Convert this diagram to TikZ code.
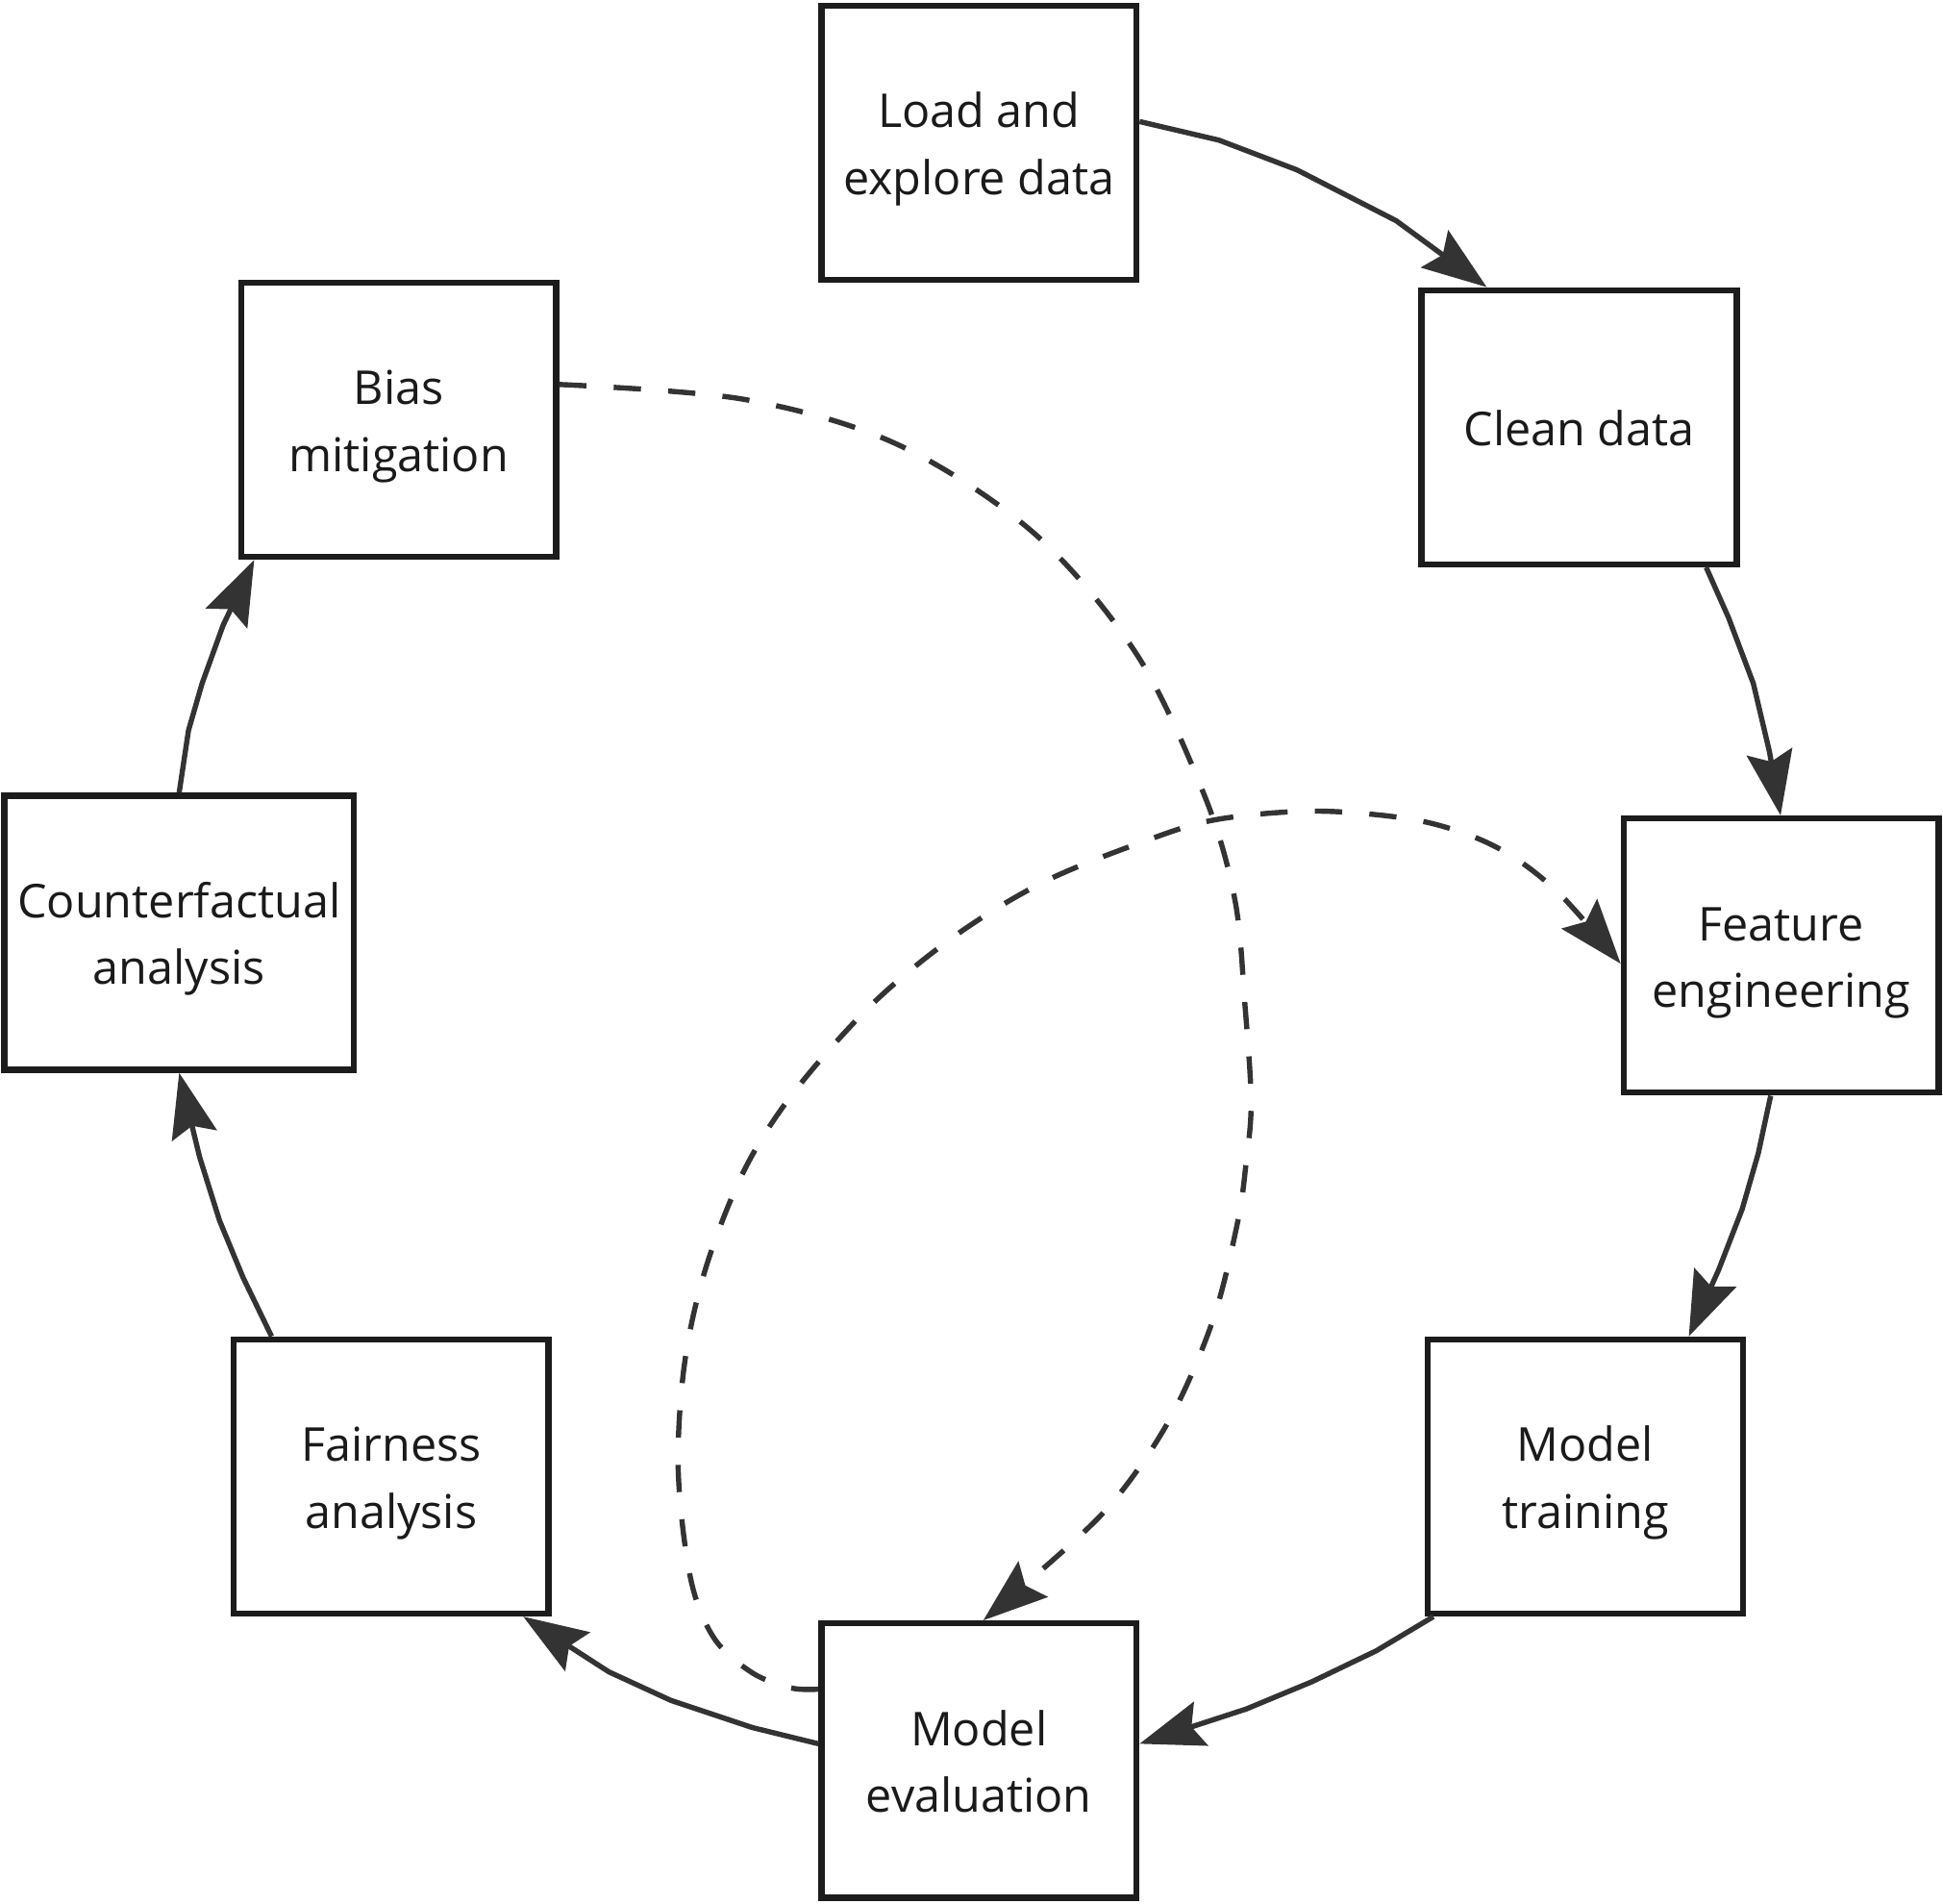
\documentclass[tikz,border=0pt]{standalone}
\usepackage{fontspec}
\setmainfont{Open Sans}
\usetikzlibrary{arrows.meta}
\definecolor{boxc}{HTML}{1C1C1C}
\definecolor{linec}{HTML}{333333}
\definecolor{txtc}{HTML}{1A1A1A}
\newcommand\mylbl[1]{\raisebox{-2pt}[\height][\depth]{\begin{tabular}{@{}c@{}}#1\end{tabular}}}
\begin{document}
\begin{tikzpicture}[x=0.5pt,y=-0.5pt,
  stage/.style={draw=boxc, line width=2.5pt, fill=white, text=txtc,
    minimum width=127pt, minimum height=110.5pt, inner sep=0pt,
    font=\fontsize{18.8pt}{27pt}\selectfont},
  flow/.style={draw=linec, line width=2.1pt, line join=round,
    -{Stealth[length=26pt,width=18.5pt,inset=4pt]}},
  dflow/.style={draw=linec, line width=2.1pt, dash pattern=on 11pt off 11pt},
  darr/.style={dflow, -{Stealth[length=26pt,width=18.5pt,inset=4pt]}}]
\useasboundingbox (0,0) rectangle (1567,1535);
\node[stage] (load)  at (789.5,115)   {\mylbl{Load and\\explore data}};
\node[stage] (clean) at (1273.5,344.5) {\mylbl{Clean data}};
\node[stage] (feat)  at (1436.5,770.5) {\mylbl{Feature\\engineering}};
\node[stage] (train) at (1278.5,1190.5) {\mylbl{Model\\training}};
\node[stage] (eval)  at (789.5,1419.5) {\mylbl{Model\\evaluation}};
\node[stage] (fair)  at (315.5,1190.5) {\mylbl{Fairness\\analysis}};
\node[stage, minimum width=141pt] (cf) at (144.5,752) {\mylbl{Counterfactual\\analysis}};
\node[stage] (bias)  at (321.5,338.5) {\mylbl{Bias\\mitigation}};
% solid cycle
\draw[flow] (load.east |- 0,98) -- (983,113) -- (1046,137) -- (1126,178) -- (clean.north -| 1199,0);
\draw[flow] (clean.south -| 1376,0) -- (1394,498) -- (1414,551) -- (1427,606) -- (feat.north -| 1436,0);
\draw[flow] (feat.south -| 1428,0) -- (1418,930) -- (1405,975) -- (1386,1024) -- (train.north -| 1362,0);
\draw[flow] (train.south -| 1156,0) -- (1110,1331) -- (1058,1356) -- (1005,1378) -- (eval.east |- 0,1406);
\draw[flow] (eval.west |- 0,1406) -- (607,1393) -- (541,1371) -- (491,1348) -- (fair.south -| 422,0);
\draw[flow] (fair.north -| 219,0) -- (196,1030) -- (177,984) -- (161,933) -- (cf.south);
\draw[flow] (cf.north) -- (152,589) -- (163,551) -- (180,504) -- (bias.south -| 205,0);
% dashed links
\draw[darr] plot[smooth, tension=0.55] coordinates {(bias.east |- 0,310) (600,322) (723,358) (834,430) (917,528) (972,643) (996,726) (1004,810) (1009,888) (1005,937) (998,986) (978,1065) (943,1145) (895,1214) (832,1273) (eval.north -| 793,0)};
\draw[darr] plot[smooth, tension=0.55] coordinates {(eval.west |- 0,1362) (638,1361) (607,1349) (576,1321) (557,1273) (547,1186) (552,1100) (569,1023) (600,944) (640,881) (703,810) (771,754) (842,711) (921,679) (980,661) (1059,654) (1135,660) (1184,673) (1222,692) (1260,723) (feat.west |- 0,777)};
\end{tikzpicture}
\end{document}
